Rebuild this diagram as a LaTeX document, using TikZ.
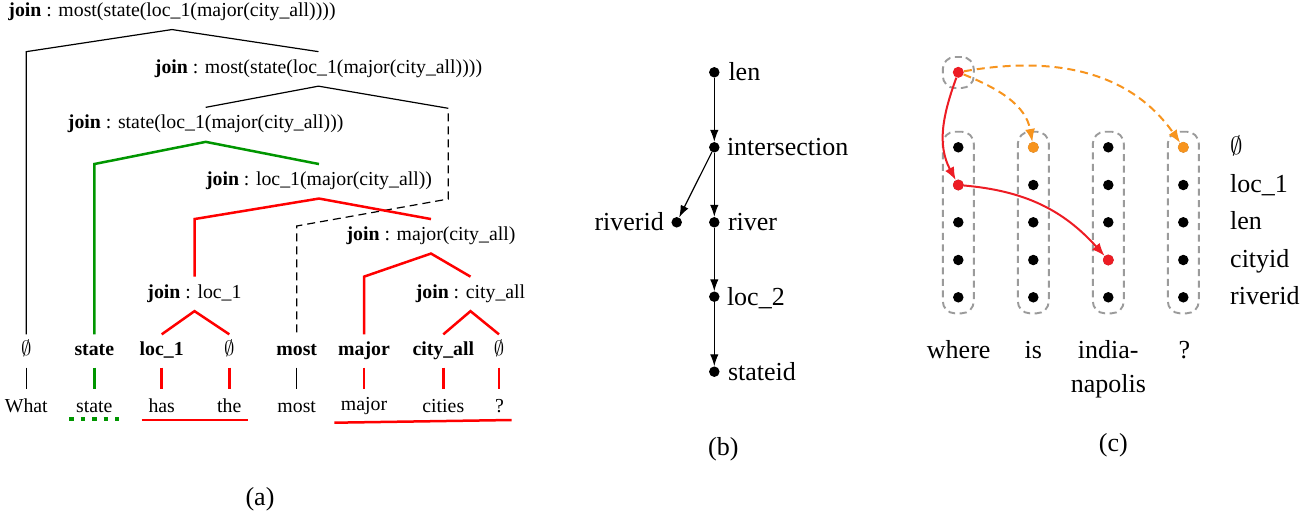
\documentclass[tikz,border=0pt]{standalone}
\usepackage{fontspec}
\setmainfont{Liberation Serif}
\usetikzlibrary{arrows.meta}
\definecolor{tred}{RGB}{237,28,36}
\definecolor{torange}{RGB}{247,148,30}
\definecolor{tgreen}{RGB}{0,150,0}
\definecolor{tgray}{RGB}{155,155,155}
\begin{document}
\begin{tikzpicture}[x=1pt,y=-1pt,
  ta/.style={inner sep=0pt, font=\fontsize{19.8}{23}\selectfont, text height=13.9pt, text depth=4pt},
  tb/.style={inner sep=0pt, font=\fontsize{26}{30}\selectfont},
  captxt/.style={inner sep=0pt, font=\fontsize{26}{30}\selectfont},
  blk/.style={line width=1.2pt},
  gln/.style={line width=2.5pt, draw=tgreen},
  rln/.style={line width=2.5pt, draw=red},
  dsh/.style={line width=1.2pt, dash pattern=on 8pt off 5pt, dash phase=8pt},
  dot/.style={circle, fill=black, inner sep=0pt, minimum size=10.5pt},
  barr/.style={line width=1.2pt, -{Latex[length=12pt,width=8.5pt]}},
  colbox/.style={draw=tgray, line width=1.9pt, dash pattern=on 7pt off 4.5pt, rounded corners=12pt, minimum width=31pt, inner sep=0pt},
  carr/.style={line width=2pt, -{Latex[length=13pt,width=10pt]}},
  odash/.style={dash pattern=on 8pt off 5pt},
]
\useasboundingbox (0,0) rectangle (1315,517);

% ---------------- (a) ----------------
\node[ta] (t1) at (172,11.7) {\textbf{join} : most(state(loc\_1(major(city\_all))))};
\node[ta] (t2) at (318.5,68.3) {\textbf{join} : most(state(loc\_1(major(city\_all))))};
\node[ta] (t3) at (205.7,124) {\textbf{join} : state(loc\_1(major(city\_all)))};
\node[ta] (t4) at (319,180.7) {\textbf{join} : loc\_1(major(city\_all))};
\node[ta] (t5) at (431,235.7) {\textbf{join} : major(city\_all)};
\node[ta] (t6) at (194.5,293.3) {\textbf{join} : loc\_1};
\node[ta] (t7) at (470.5,293.3) {\textbf{join} : city\_all};

\node[ta] (l1) at (26.3,351) {$\emptyset$};
\node[ta] (l2) at (94.3,351) {\textbf{state}};
\node[ta] (l3) at (161.7,351) {\textbf{loc\_1}};
\node[ta] (l4) at (229.3,351) {$\emptyset$};
\node[ta] (l5) at (296.7,351) {\textbf{most}};
\node[ta] (l6) at (364,351) {\textbf{major}};
\node[ta] (l7) at (443.3,351) {\textbf{city\_all}};
\node[ta] (l8) at (499,351) {$\emptyset$};

\node[ta] (w1) at (26.3,407.3) {What};
\node[ta] (w2) at (94.3,407.3) {state};
\node[ta] (w3) at (161.7,407.3) {has};
\node[ta] (w4) at (229.3,407.3) {the};
\node[ta] (w5) at (296.7,407.3) {most};
\node[ta] (w6) at (364,406) {major};
\node[ta] (w7) at (443.3,407.3) {cities};
\node[ta] (w8) at (499.5,407.3) {?};

\foreach \n in {2,...,7}{\coordinate (t\n in) at ([yshift=7.5pt]t\n.north);}
\foreach \n in {1,...,7}{\coordinate (t\n ap) at ([yshift=-8.7pt]t\n.south);}
\foreach \n in {1,...,8}{\coordinate (l\n in) at ([yshift=7.5pt]l\n.north);}
\coordinate (d1) at (448.3,108.3);
\coordinate (d2) at (448.3,199);
\coordinate (d3) at (296.7,226);

\draw[blk] (t2in) -- (t1ap) -- (l1 |- t2in) -- (l1in);
\draw[blk] (t3in) -- (t2ap) -- (d1);
\draw[dsh] (d1) -- (d2) -- (l5 |- d3) -- (l5in);
\draw[gln] (t4in) -- (t3ap) -- (l2 |- t4in) -- (l2in);
\draw[rln] (t5in) -- (t4ap) -- (t6 |- t5in) -- (t6in);
\draw[rln] (t7in) -- (t5ap) -- (l6 |- t7in) -- (l6in);
\draw[rln] (l3in) -- (t6ap) -- (l4in);
\draw[rln] (l7in) -- (t7ap) -- (l8in);

\draw[blk] ([yshift=-7.4pt]l1.south) -- ([yshift=9pt]w1.north);
\draw[gln] ([yshift=-7.4pt]l2.south) -- ([yshift=9pt]w2.north);
\foreach \n in {3,4,6,7,8}{\draw[rln] ([yshift=-7.4pt]l\n.south) -- ([yshift=9pt]l\n.south |- w1.north);}
\draw[blk] ([yshift=-7.4pt]l5.south) -- ([yshift=9pt]w5.north);

\draw[draw=tgreen, line width=4pt, dash pattern=on 4.5pt off 7pt] (69,419.3) -- (119,419.3);
\draw[rln] (141.7,420) -- (247.7,420);
\draw[rln] (334.3,422.7) -- (511.7,420);

\node[captxt] (capa) at (260,499) {(a)};

% ---------------- (b) ----------------
\node[dot] (b1) at (714.3,72.3) {};
\node[dot] (b2) at (714.3,147.3) {};
\node[dot] (b3) at (714.3,222.3) {};
\node[dot] (b4) at (714.3,296.7) {};
\node[dot] (b5) at (714.3,371.7) {};
\node[dot] (b6) at (676.7,222.3) {};
\node[tb, anchor=base west] (bl1) at ([xshift=14pt,yshift=-8.4pt]b1.center) {len};
\node[tb, anchor=base west] (bl2) at ([xshift=12.5pt,yshift=-8.4pt]b2.center) {intersection};
\node[tb, anchor=base west] (bl3) at ([xshift=13.5pt,yshift=-8.4pt]b3.center) {river};
\node[tb, anchor=base west] (bl4) at ([xshift=12.5pt,yshift=-8.4pt]b4.center) {loc\_2};
\node[tb, anchor=base west] (bl5) at ([xshift=13.5pt,yshift=-8.4pt]b5.center) {stateid};
\node[tb, anchor=base east] (bl6) at ([xshift=-12.7pt,yshift=-8.4pt]b6.center) {riverid};
\draw[barr] (b1) -- (b2);
\draw[barr] (b2) -- (b3);
\draw[barr] (b3) -- (b4);
\draw[barr] (b4) -- (b5);
\draw[barr] (b2) -- (b6);
\node[captxt] (capb) at (723.3,449) {(b)};

% ---------------- (c) ----------------
\node[colbox, minimum height=31pt] (box0) at (958.3,72.5) {};
\node[colbox, minimum height=181.6pt] (box1) at (958.3,222.5) {};
\node[colbox, minimum height=181.6pt] (box2) at (1033.3,222.5) {};
\node[colbox, minimum height=181.6pt] (box3) at (1108.3,222.5) {};
\node[colbox, minimum height=181.6pt] (box4) at (1183.3,222.5) {};

\node[dot, fill=tred, minimum size=11pt] (ctop) at (958.3,72.3) {};
\foreach \c/\x in {1/958.3,2/1033.3,3/1108.3,4/1183.3}{
  \foreach \r/\y in {1/147.3,2/185,3/222.3,4/260,5/297.3}{
    \node[dot] (c\c\r) at (\x,\y) {};
  }
}
\node[dot, fill=tred, minimum size=11pt] at (c12) {};
\node[dot, fill=tred, minimum size=11pt] at (c34) {};
\node[dot, fill=torange, minimum size=11pt] at (c21) {};
\node[dot, fill=torange, minimum size=11pt] at (c41) {};

\node[tb, anchor=base west] (r1) at (1230,154.8) {$\emptyset$};
\node[tb, anchor=base west] (r2) at (1230,192.5) {loc\_1};
\node[tb, anchor=base west] (r3) at (1230,229.8) {len};
\node[tb, anchor=base west] (r4) at (1230,267.5) {cityid};
\node[tb, anchor=base west] (r5) at (1230,304.8) {riverid};

\node[tb, anchor=base] (cw1) at (958.7,358.3) {where};
\node[tb, anchor=base] (cw2) at (1033.3,358.3) {is};
\node[tb, anchor=base] (cw3) at (1108.3,358.3) {india-};
\node[tb, anchor=base] (cw3b) at (1108.3,392.7) {napolis};
\node[tb, anchor=base] (cw4) at (1184.5,358.3) {?};

\draw[carr, tred] (ctop) to[out=250,in=118] (c12);
\draw[carr, tred] (c12) to[out=-5,in=132] (c34);
\draw[carr, torange, odash] (ctop) to[out=-22,in=100] (c21);
\draw[carr, torange, odash] (ctop) to[out=10,in=125] (c41);

\node[captxt] (capc) at (1113.3,445) {(c)};
\end{tikzpicture}
\end{document}
